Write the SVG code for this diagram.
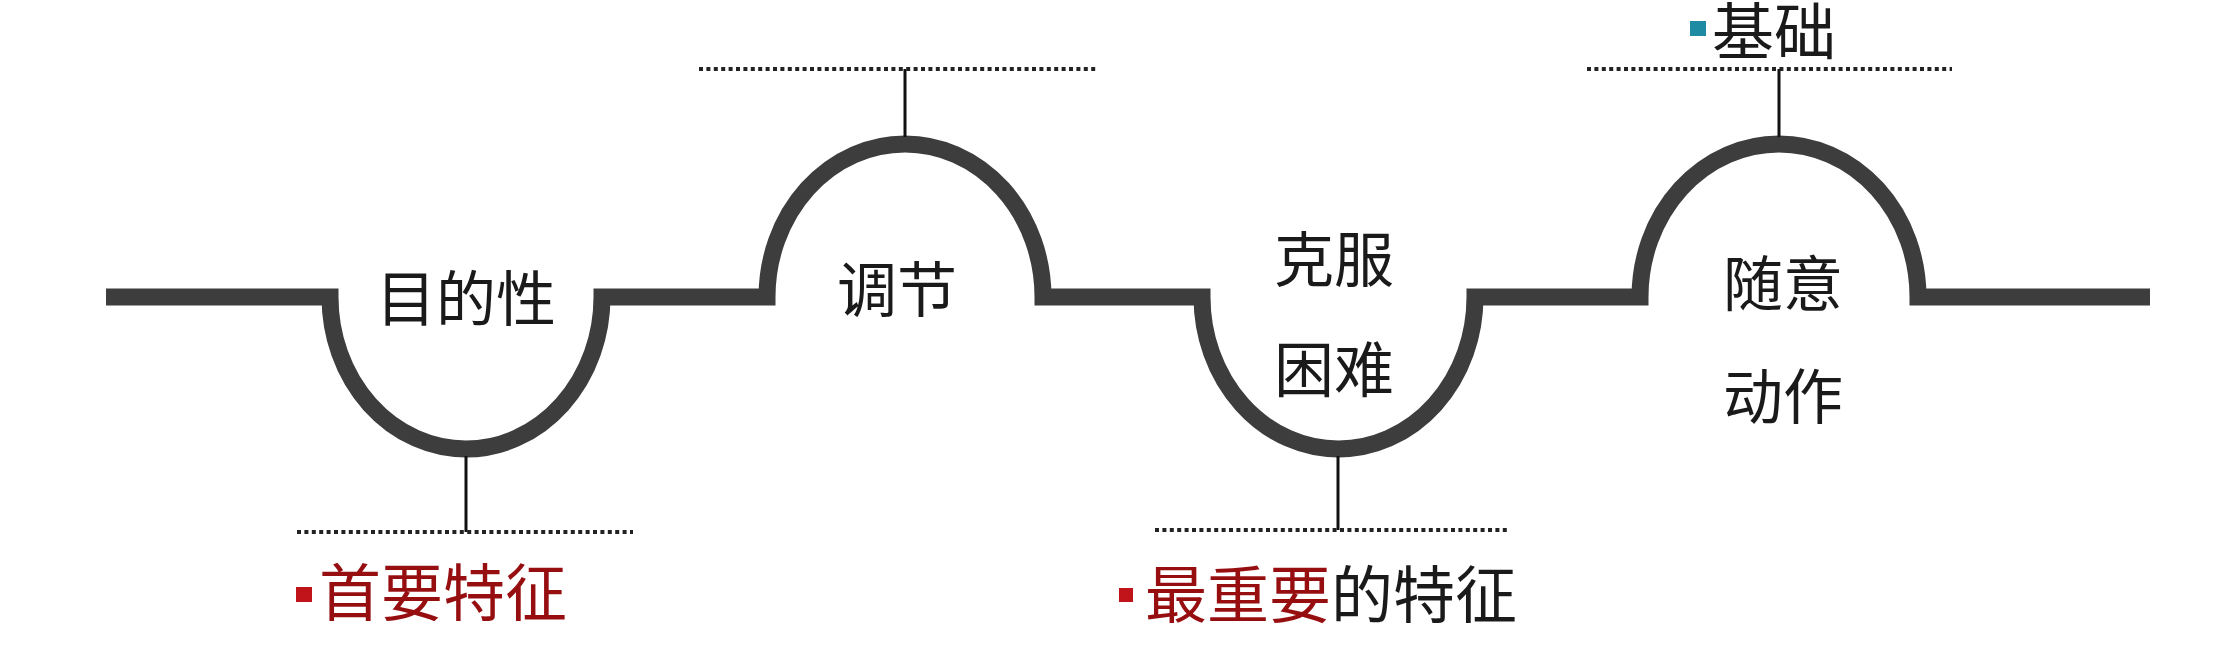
<svg xmlns="http://www.w3.org/2000/svg" width="2226" height="653" viewBox="0 0 2226 653">
<style>
.wave{fill:none;stroke:#3d3d3d;stroke-width:17;stroke-linejoin:miter}
.stem{stroke:#111;stroke-width:3}
.dots{stroke:#222;stroke-width:4;stroke-dasharray:4 3.4}
.lbl{font-family:"Noto Sans CJK SC","Noto Sans",sans-serif;font-size:60px;fill:#1a1a1a;text-anchor:middle}
.note{font-family:"Noto Sans CJK SC","Noto Sans",sans-serif;font-size:62px;fill:#1a1a1a}
.red{fill:#970e11}
.bred{fill:#c0141a}
.bteal{fill:#1f8ba2}
</style>
<rect width="2226" height="653" fill="#fff"/>
<g id="wave">
<path class="wave" d="M106 297 H330 A136 152 0 0 0 602 297 H767 A138 153 0 0 1 1043 297 H1202 A136.5 152 0 0 0 1475 297 H1640 A139 153 0 0 1 1918 297 H2150"/>
</g>
<g id="connectors">
<line class="stem" x1="466" y1="456" x2="466" y2="532"/>
<line class="dots" x1="297" y1="532" x2="633" y2="532"/>
<line class="stem" x1="905" y1="69" x2="905" y2="137"/>
<line class="dots" x1="699" y1="69" x2="1096" y2="69"/>
<line class="stem" x1="1338" y1="456" x2="1338" y2="530"/>
<line class="dots" x1="1155" y1="530" x2="1509" y2="530"/>
<line class="stem" x1="1779" y1="69" x2="1779" y2="137"/>
<line class="dots" x1="1587" y1="69" x2="1952" y2="69"/>
</g>
<g id="node-mudixing">
<text class="lbl" x="466" y="321">目的性</text>
</g>
<g id="node-tiaojie">
<text class="lbl" x="897" y="312">调节</text>
</g>
<g id="node-kefu">
<text class="lbl" x="1334" y="282">克服</text>
<text class="lbl" x="1334" y="392">困难</text>
</g>
<g id="node-suiyi">
<text class="lbl" x="1783" y="306">随意</text>
<text class="lbl" x="1783" y="419">动作</text>
</g>
<g id="note-shouyao">
<rect class="bred" x="296" y="587" width="16" height="15"/>
<text class="note red" x="319" y="616">首要特征</text>
</g>
<g id="note-zuizhongyao">
<rect class="bred" x="1119" y="588" width="14" height="14"/>
<text class="note" x="1145" y="618"><tspan class="red">最重要</tspan>的特征</text>
</g>
<g id="note-jichu">
<rect class="bteal" x="1690" y="21" width="16" height="15"/>
<text class="note" x="1712" y="55" font-size="60">基础</text>
</g>
</svg>
